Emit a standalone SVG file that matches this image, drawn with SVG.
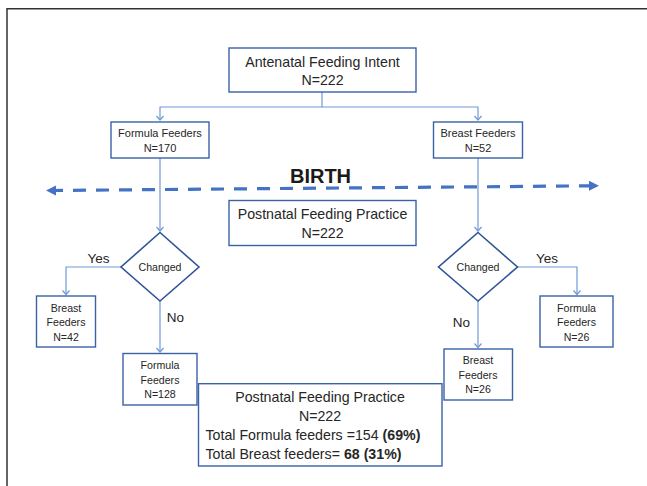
<svg xmlns="http://www.w3.org/2000/svg" width="647" height="486" viewBox="0 0 647 486">
<style>
  .box { fill: #ffffff; stroke: #3A62A7; stroke-width: 1.4; }
  .dia { fill: #ffffff; stroke: #2F5597; stroke-width: 1.6; }
  .con { fill: none; stroke: #6F9AD6; stroke-width: 1.2; }
  text { font-family: "Liberation Sans", Arial, sans-serif; fill: #262626; text-anchor: middle; }
  .t14 { font-size: 14.2px; }
  .t11 { font-size: 11px; }
  .t10 { font-size: 10.6px; }
  .yn { font-size: 13.5px; }
  .b { font-weight: bold; }
</style>
<defs>
  <marker id="arr" markerWidth="10" markerHeight="10" refX="5" refY="5" orient="auto" markerUnits="userSpaceOnUse">
    <path d="M1,1.5 L5,5 L1,8.5" fill="none" stroke="#6F9AD6" stroke-width="1.2"/>
  </marker>
  <marker id="fat" markerWidth="12" markerHeight="12" refX="6" refY="6" orient="auto-start-reverse" markerUnits="userSpaceOnUse">
    <path d="M0,1 L10,6 L0,11 Z" fill="#4472C4"/>
  </marker>
</defs>
<rect width="647" height="486" fill="#ffffff"/>
<path d="M7,486 V8.8 H647" fill="none" stroke="#333333" stroke-width="1.5"/>

<g id="connectors">
  <path class="con" d="M322,92 V107 H160 V120" marker-end="url(#arr)"/>
  <path class="con" d="M322,107 H478 V120" marker-end="url(#arr)"/>
  <path class="con" d="M160,158 V231" marker-end="url(#arr)"/>
  <path class="con" d="M478,158 V231" marker-end="url(#arr)"/>
  <path class="con" d="M121,267 H66 V294.5" marker-end="url(#arr)"/>
  <path class="con" d="M160,301 V352" marker-end="url(#arr)"/>
  <path class="con" d="M517,267 H577 V294.5" marker-end="url(#arr)"/>
  <path class="con" d="M478,301 V347.5" marker-end="url(#arr)"/>
  <line x1="50" y1="190.5" x2="595" y2="185.8" stroke="#4472C4" stroke-width="3.2" stroke-dasharray="13,10" marker-start="url(#fat)" marker-end="url(#fat)"/>
</g>

<g id="birth">
  <text x="320.5" y="182.7" class="b" style="font-size:20px;fill:#1a1a1a">BIRTH</text>
</g>

<g id="antenatal">
  <rect class="box" x="229" y="48" width="187" height="44"/>
  <text x="322.5" y="66.5" class="t14">Antenatal Feeding Intent</text>
  <text x="322.5" y="85" class="t14">N=222</text>
</g>

<g id="formula170">
  <rect class="box" x="111" y="122" width="98" height="36"/>
  <text x="160" y="137" class="t11">Formula Feeders</text>
  <text x="160" y="152" class="t11">N=170</text>
</g>

<g id="breast52">
  <rect class="box" x="433.5" y="122" width="89" height="36"/>
  <text x="478" y="137" class="t11">Breast Feeders</text>
  <text x="478" y="152" class="t11">N=52</text>
</g>

<g id="postnatal-mid">
  <rect class="box" x="229" y="200.5" width="187" height="45"/>
  <text x="322.5" y="218.5" class="t14">Postnatal Feeding Practice</text>
  <text x="322.5" y="237.5" class="t14">N=222</text>
</g>

<g id="changed-left">
  <polygon class="dia" points="160,232.5 199,267 160,301 121,267"/>
  <text x="160" y="270.8" class="t10">Changed</text>
  <text x="98.5" y="262.7" class="yn">Yes</text>
  <text x="175.5" y="321.7" class="yn">No</text>
</g>

<g id="changed-right">
  <polygon class="dia" points="478,232.5 517.5,267 478,301 438.5,267"/>
  <text x="478" y="270.8" class="t10">Changed</text>
  <text x="547" y="262.7" class="yn">Yes</text>
  <text x="461.5" y="326.7" class="yn">No</text>
</g>

<g id="breast42">
  <rect class="box" x="36.5" y="296" width="59" height="51"/>
  <text x="66" y="311.7" class="t10">Breast</text>
  <text x="66" y="325.7" class="t10">Feeders</text>
  <text x="66" y="340.7" class="t10">N=42</text>
</g>

<g id="formula128">
  <rect class="box" x="123" y="353.5" width="74" height="51.5"/>
  <text x="160" y="368.7" class="t10">Formula</text>
  <text x="160" y="384" class="t10">Feeders</text>
  <text x="160" y="397.7" class="t10">N=128</text>
</g>

<g id="formula26">
  <rect class="box" x="540" y="296" width="73" height="51"/>
  <text x="576.5" y="311.7" class="t10">Formula</text>
  <text x="576.5" y="325.7" class="t10">Feeders</text>
  <text x="576.5" y="340.7" class="t10">N=26</text>
</g>

<g id="breast26">
  <rect class="box" x="444" y="349" width="68.5" height="51"/>
  <text x="478" y="364" class="t10">Breast</text>
  <text x="478" y="378.7" class="t10">Feeders</text>
  <text x="478" y="392.7" class="t10">N=26</text>
</g>

<g id="postnatal-total">
  <rect class="box" x="198.5" y="383.7" width="243.5" height="82.3"/>
  <text x="320" y="401.7" class="t14">Postnatal Feeding Practice</text>
  <text x="320" y="420.7" class="t14">N=222</text>
  <text x="205.5" y="440" class="t14" style="text-anchor:start">Total Formula feeders =154 <tspan class="b">(69%)</tspan></text>
  <text x="205.5" y="458.7" class="t14" style="text-anchor:start">Total Breast feeders= <tspan class="b">68 (31%)</tspan></text>
</g>
</svg>
